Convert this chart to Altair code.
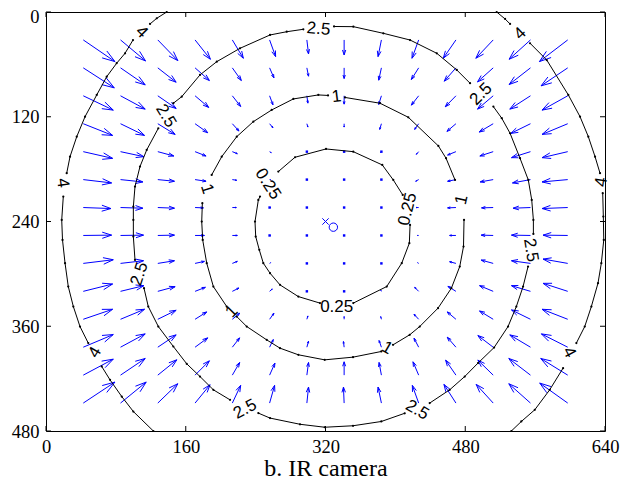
import altair as alt
import pandas as pd

# ---- quiver grid (pixel coordinates of the IR image) ----
GRID_X = [42.67, 85.33, 128.0, 170.67, 213.33, 256.0, 298.67,
          341.33, 384.0, 426.67, 469.33, 512.0, 554.67, 597.33]
GRID_Y = [32, 64, 96, 128, 160, 192, 224, 256, 288, 320, 352, 384, 416, 448]

# arrow components (quiver units)
U = [
    [95, 75, 60, 46, 33, 18, 5, 0, -10, -20, -38, -52, -64, -85],
    [93, 74, 55, 43, 27, 13, 5, 0, -8, -22, -35, -47, -64, -80],
    [90, 74, 55, 41, 25, 10, 3, 0, -8, -22, -32, -47, -62, -77],
    [88, 72, 52, 38, 20, 10, 3, 0, -5, -12, -27, -42, -59, -77],
    [88, 70, 48, 33, 15, 5, 1, 0, -2, -7, -25, -40, -57, -77],
    [85, 67, 50, 33, 13, 4, 1, 0, -1, -9, -25, -39, -54, -77],
    [83, 67, 50, 25, 12, 3, 0, 0, -1, -8, -25, -35, -52, -77],
    [85, 69, 50, 28, 15, 2, 0, 0, 0, -4, -19, -36, -57, -74],
    [90, 69, 50, 28, 15, 3, 1, 0, 0, -3, -19, -36, -57, -74],
    [88, 70, 52, 31, 20, 8, 1, 0, -2, -12, -24, -41, -57, -74],
    [88, 72, 55, 35, 22, 13, 3, 0, -2, -14, -26, -41, -57, -77],
    [90, 74, 55, 38, 22, 11, 5, -2, -7, -14, -26, -46, -62, -79],
    [90, 74, 57, 43, 22, 16, 5, 0, -7, -17, -31, -46, -65, -81],
    [95, 77, 60, 45, 25, 15, 5, -2, -10, -19, -36, -51, -65, -84],
]
V = [
    [65, 63, 62, 58, 55, 50, 42, 45, 50, 55, 55, 55, 58, 65],
    [60, 51, 43, 38, 38, 30, 25, 32, 37, 35, 40, 42, 50, 54],
    [43, 40, 38, 35, 32, 27, 22, 25, 26, 28, 33, 40, 40, 43],
    [35, 35, 32, 27, 22, 12, 10, 10, 17, 17, 23, 25, 29, 32],
    [20, 15, 13, 13, 6, 3, 1, 1, 2, 8, 10, 13, 18, 18],
    [10, 7, 5, 5, 2, 1, 0, 0, 1, 5, 5, 7, 10, 7],
    [3, 2, 2, 1, 0, 0, 0, 0, 0, 0, 1, 1, 2, 3],
    [-1, -1, -1, 0, 0, 0, 0, 0, 0, 0, 0, -1, -1, -1],
    [-11, -8, -8, -6, -6, -2, -1, -1, 0, -2, -5, -10, -8, -13],
    [-22, -17, -14, -12, -10, -7, -1, -1, -4, -12, -15, -17, -17, -24],
    [-30, -30, -27, -22, -18, -18, -10, -8, -8, -15, -22, -25, -28, -30],
    [-38, -40, -37, -28, -28, -23, -18, -17, -20, -27, -30, -35, -37, -40],
    [-48, -50, -46, -43, -38, -36, -38, -40, -38, -40, -45, -45, -50, -50],
    [-63, -63, -58, -55, -53, -53, -48, -48, -48, -53, -56, -56, -58, -60],
]
QUIVER_SCALE = 0.3816
HEAD_ALPHA = 0.33
HEAD_BETA = 0.33
DOT_LIMIT = 3

# ---- contour lines (pieces between labels) ----
C025 = [
    [(266.0, 182.8), (285.1, 166.4), (320.6, 156.9), (351.8, 160.0), (385.0, 175.2), (397.6, 192.4), (408.4, 209.5)],
    [(416.8, 243.9), (416.0, 264.8), (407.3, 287.7), (390.1, 314.5), (351.8, 333.5)],
    [(313.7, 333.5), (288.9, 326.0), (267.9, 312.6), (256.5, 299.2), (248.8, 287.7), (244.2, 272.5),
     (240.1, 257.3), (239.3, 240.1), (243.1, 215.3), (245.0, 211.5)],
]
C1 = [
    [(342.4, 97.9), (382.4, 104.5), (414.8, 120.6), (449.2, 153.4), (458.0, 167.5), (468.3, 192.4)],
    [(478.6, 238.2), (478.0, 268.7), (473.7, 291.6), (464.1, 316.4), (448.8, 339.3), (427.9, 360.3),
     (416.4, 369.8), (397.3, 381.3)],
    [(383.9, 388.9), (351.5, 395.4), (319.1, 398.5), (288.9, 392.7), (267.9, 385.1), (252.7, 375.6),
     (229.8, 360.3), (218.4, 348.9)],
    [(206.9, 337.4), (191.6, 314.5), (184.0, 287.7), (179.4, 261.1), (178.3, 240.1), (179.0, 219.0)],
    [(189.7, 186.6), (201.2, 165.7), (218.4, 142.8), (237.4, 125.6), (258.4, 112.2), (283.2, 99.6),
     (311.8, 95.0), (322.9, 95.6)],
]
C25 = [
    [(145.8, 104.5), (155.4, 97.0), (176.3, 72.1), (195.5, 56.9), (222.1, 41.6), (256.5, 26.3),
     (275.6, 22.6), (294.6, 19.8)],
    [(329.8, 16.6), (351.9, 16.8), (386.2, 24.4), (416.8, 32.1), (447.4, 47.3), (470.3, 66.4), (485.5, 81.6)],
    [(512.2, 108.4), (521.8, 121.7), (531.3, 138.9), (542.7, 167.5), (552.2, 192.4), (556.1, 215.3),
     (558.0, 238.2), (558.0, 254.2)],
    [(551.9, 291.6), (546.2, 314.5), (538.5, 337.4), (529.0, 360.3), (513.0, 384.4), (494.6, 402.2),
     (479.4, 417.6), (462.2, 432.8), (439.3, 448.0)],
    [(410.7, 459.7), (383.9, 469.1), (351.5, 474.0), (319.1, 475.7), (290.8, 472.3), (256.5, 465.2),
     (243.1, 459.5)],
    [(210.7, 444.3), (191.6, 432.8), (176.3, 417.6), (161.1, 403.0), (145.8, 383.2), (128.6, 360.3),
     (117.1, 337.4), (112.2, 316.4)],
    [(101.9, 284.0), (100.0, 257.3), (100.0, 238.2), (100.0, 222.9), (101.9, 200.0), (107.6, 177.1),
     (115.3, 158.0), (128.6, 133.2)],
]
C4 = [
    [(138.2, 0.0), (126.8, 7.2), (119.1, 13.7)],
    [(99.6, 32.1), (90.5, 47.3), (80.9, 58.7), (69.5, 74.1), (58.1, 95.0), (44.7, 119.9), (35.2, 142.8),
     (27.5, 165.7), (23.7, 184.7)],
    [(19.8, 211.5), (18.0, 238.2), (18.9, 261.1), (21.8, 287.7), (25.5, 314.5), (31.3, 337.4),
     (38.9, 360.3), (48.4, 379.3)],
    [(63.8, 406.1), (73.3, 421.4), (86.7, 440.5), (100.0, 457.7), (122.9, 480.0)],
    [(516.0, 0.0), (525.6, 8.0), (531.3, 13.7)],
    [(554.2, 35.8), (573.3, 55.0), (598.0, 95.0), (611.4, 119.9), (620.9, 142.8), (628.6, 165.7),
     (634.3, 184.7)],
    [(637.4, 207.6), (638.1, 234.4), (638.6, 261.1), (635.8, 287.7), (632.0, 310.6), (624.4, 337.4),
     (616.8, 360.3), (607.2, 379.3)],
    [(592.0, 408.0), (576.7, 432.8), (559.6, 455.7), (544.2, 469.1), (532.8, 480.0)],
]
CONTOURS = {"0.25": C025, "1": C1, "2.5": C25, "4": C4}

# contour labels: text, x, y, rotation (deg)
LABELS = [
    ("0.25", 254.0, 197.0, 57), ("0.25", 414.0, 226.0, -76), ("0.25", 332.8, 338.0, 0),
    ("1", 332.6, 97.0, -7), ("1", 476.0, 215.0, -77), ("1", 390.6, 385.1, 30),
    ("1", 212.6, 343.1, -45), ("1", 184.4, 202.8, 72),
    ("2.5", 312.0, 19.5, 5), ("2.5", 498.0, 94.0, -45), ("2.5", 555.0, 272.9, 81),
    ("2.5", 425.0, 456.0, 30), ("2.5", 228.0, 455.0, -28), ("2.5", 107.0, 300.2, -72),
    ("2.5", 137.2, 118.9, 59),
    ("4", 109.4, 22.9, 45), ("4", 19.0, 196.0, 82), ("4", 56.0, 390.0, -60),
    ("4", 599.0, 390.0, 62), ("4", 636.0, 195.0, -82), ("4", 542.8, 24.8, -44),
]

XTICKS = [0, 160, 320, 480, 640]
YTICKS = [0, 120, 240, 360, 480]
IMAGE_CENTER = (320.0, 240.0)      # x marker
EST_CENTER = (329.0, 246.5)        # o marker
X_TITLE = "b. IR camera"

# ---- build tables ----
seg_rows, dot_rows = [], []
for j, y0 in enumerate(GRID_Y):
    for i, x0 in enumerate(GRID_X):
        u = U[j][i] * QUIVER_SCALE
        v = V[j][i] * QUIVER_SCALE
        hx, hy = x0 + u, y0 + v
        seg_rows.append(dict(x=x0, y=y0, x2=hx, y2=hy))
        seg_rows.append(dict(x=hx - HEAD_ALPHA * (u + HEAD_BETA * v),
                             y=hy - HEAD_ALPHA * (v - HEAD_BETA * u), x2=hx, y2=hy))
        seg_rows.append(dict(x=hx - HEAD_ALPHA * (u - HEAD_BETA * v),
                             y=hy - HEAD_ALPHA * (v + HEAD_BETA * u), x2=hx, y2=hy))
        if (U[j][i] ** 2 + V[j][i] ** 2) ** 0.5 <= DOT_LIMIT:
            dot_rows.append(dict(x=x0, y=y0))
arrows = pd.DataFrame(seg_rows)
dots = pd.DataFrame(dot_rows)

c_rows = []
for lev, pieces in CONTOURS.items():
    for s, piece in enumerate(pieces):
        for k, (px, py) in enumerate(piece):
            c_rows.append(dict(level=lev, seg=f"{lev}-{s}", i=k, x=px, y=py))
cont = pd.DataFrame(c_rows)

labels = pd.DataFrame([dict(t=t, x=x, y=y, a=a % 360) for t, x, y, a in LABELS])
centers = pd.DataFrame([dict(x=IMAGE_CENTER[0], y=IMAGE_CENTER[1], kind="x"),
                        dict(x=EST_CENTER[0], y=EST_CENTER[1], kind="o")])
xt = pd.DataFrame({"v": XTICKS})
yt = pd.DataFrame({"v": YTICKS})

# ---- scales and axes ----
W, H = 559, 419
SERIF = "Liberation Serif, Times New Roman, Times, DejaVu Serif, serif"
BLUE = "#0000ff"
xs = alt.Scale(domain=[0, 640], nice=False, zero=False)
ys = alt.Scale(domain=[0, 480], nice=False, zero=False, reverse=True)
xaxis = alt.Axis(values=XTICKS, title=X_TITLE, ticks=False, domain=False, grid=False,
                 labelFlush=False, labelOverlap=False, labelFont=SERIF, labelFontSize=18.5,
                 labelColor="black", labelPadding=6, titleFont=SERIF, titleFontSize=24,
                 titleFontWeight="normal", titleColor="black", titlePadding=1, format="d")
yaxis = alt.Axis(values=YTICKS, title=None, ticks=False, domain=False, grid=False,
                 labelFlush=False, labelOverlap=False, labelFont=SERIF, labelFontSize=18.5,
                 labelColor="black", labelPadding=7, format="d",
                 labelOffset={"condition": {"test": "datum.value == 0", "value": 4}, "value": 0})


def X(f="x"):
    return alt.X(f"{f}:Q", scale=xs, axis=xaxis)


def Y(f="y"):
    return alt.Y(f"{f}:Q", scale=ys, axis=yaxis)


lines = alt.Chart(cont).mark_line(color="black", strokeWidth=1).encode(
    x=X(), y=Y(), detail="seg:N", order="i:Q")
verts = alt.Chart(cont).mark_circle(color="black", size=5, opacity=1).encode(x=X(), y=Y())
arr = alt.Chart(arrows).mark_rule(color=BLUE, strokeWidth=1).encode(
    x=X(), y=Y(), x2="x2:Q", y2="y2:Q")
adots = alt.Chart(dots).mark_square(color=BLUE, size=6, opacity=1).encode(x=X(), y=Y())
txt = alt.Chart(labels).mark_text(font="Liberation Sans, Arial, Helvetica, sans-serif", fontSize=17,
                                  color="black", align="center", baseline="middle").encode(
    x=X(), y=Y(), text="t:N", angle=alt.Angle("a:Q", scale=None))
xmark = alt.Chart(centers).transform_filter(alt.datum.kind == "x").mark_point(
    shape="M-1,-1L1,1M-1,1L1,-1", size=40, color=BLUE, filled=False, strokeWidth=1, opacity=1
).encode(x=X(), y=Y())
omark = alt.Chart(centers).transform_filter(alt.datum.kind == "o").mark_point(
    shape="circle", size=70, color=BLUE, filled=False, strokeWidth=1, opacity=1
).encode(x=X(), y=Y())

TL = 5
tb = alt.Chart(xt).mark_rule(color="black").encode(
    x=alt.X("v:Q", scale=xs, axis=xaxis), y=alt.value(H), y2=alt.value(H - TL))
tt = alt.Chart(xt).mark_rule(color="black").encode(
    x=alt.X("v:Q", scale=xs, axis=xaxis), y=alt.value(0), y2=alt.value(TL))
tl = alt.Chart(yt).mark_rule(color="black").encode(
    y=alt.Y("v:Q", scale=ys, axis=yaxis), x=alt.value(0), x2=alt.value(TL))
tr = alt.Chart(yt).mark_rule(color="black").encode(
    y=alt.Y("v:Q", scale=ys, axis=yaxis), x=alt.value(W), x2=alt.value(W - TL))

chart = alt.layer(arr, adots, lines, verts, txt, xmark, omark, tb, tt, tl, tr).properties(
    width=W, height=H,
    autosize=alt.AutoSizeParams(type="none"),
    padding={"left": 38, "top": 4, "right": 25, "bottom": 49},
    background="white",
).configure_view(stroke="black", strokeWidth=1)

chart.save("out.html", embed_options={"renderer": "svg", "actions": False})
